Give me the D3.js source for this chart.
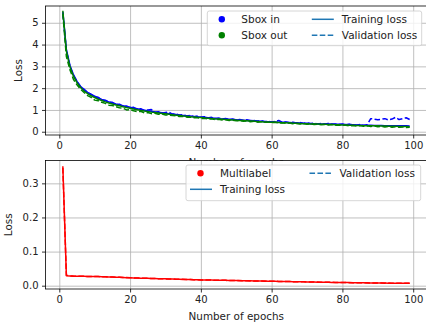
<!DOCTYPE html>
<html>
<head>
<meta charset="utf-8">
<script src="https://d3js.org/d3.v7.min.js"></script>
<style>
    body { margin: 0; background: #fff; }
    svg { display: block; font-family: "DejaVu Sans", sans-serif; }
</style>
</head>
<body>
<script>
var w = 426, h = 327;

// epochs 1..99
var epochs = d3.range(1, 100);

var trainIn = [
    5.50,3.78,3.05,2.62,2.31,2.09,1.93,1.81,1.71,1.63,
    1.55,1.48,1.42,1.37,1.32,1.27,1.23,1.19,1.15,1.12,
    1.08,1.05,1.02,0.99,0.96,0.94,0.91,0.89,0.87,0.85,
    0.83,0.81,0.79,0.77,0.75,0.73,0.72,0.70,0.69,0.67,
    0.66,0.64,0.63,0.62,0.60,0.59,0.58,0.57,0.56,0.55,
    0.54,0.53,0.52,0.51,0.50,0.49,0.48,0.47,0.46,0.46,
    0.45,0.44,0.43,0.43,0.42,0.41,0.41,0.40,0.39,0.39,
    0.38,0.37,0.37,0.36,0.36,0.35,0.35,0.34,0.34,0.33,
    0.33,0.32,0.32,0.31,0.31,0.30,0.30,0.30,0.29,0.29,
    0.29,0.28,0.28,0.28,0.27,0.27,0.27,0.27,0.26];

var valIn = [
    5.45,3.70,3.00,2.58,2.30,2.05,1.95,1.78,1.72,1.60,
    1.58,1.46,1.45,1.36,1.35,1.25,1.26,1.17,1.18,1.10,
    1.12,1.03,1.06,0.98,1.00,1.02,0.90,0.92,0.85,0.88,
    0.90,0.80,0.82,0.76,0.78,0.72,0.75,0.69,0.72,0.66,
    0.69,0.63,0.66,0.60,0.63,0.58,0.61,0.56,0.58,0.54,
    0.56,0.52,0.55,0.50,0.52,0.48,0.51,0.46,0.48,0.45,
    0.47,0.52,0.43,0.45,0.41,0.44,0.40,0.42,0.38,0.41,
    0.37,0.40,0.36,0.38,0.35,0.38,0.34,0.36,0.33,0.36,
    0.32,0.35,0.31,0.30,0.33,0.29,0.32,0.60,0.58,0.55,
    0.57,0.60,0.54,0.58,0.66,0.56,0.60,0.64,0.56];

var trainOut = [
    5.55,3.70,2.98,2.55,2.25,2.03,1.87,1.75,1.65,1.57,
    1.49,1.43,1.37,1.32,1.27,1.23,1.19,1.15,1.11,1.08,
    1.04,1.01,0.98,0.95,0.93,0.90,0.88,0.86,0.84,0.82,
    0.80,0.78,0.76,0.74,0.72,0.71,0.69,0.68,0.66,0.65,
    0.63,0.62,0.61,0.59,0.58,0.57,0.56,0.55,0.54,0.53,
    0.52,0.51,0.50,0.49,0.48,0.47,0.46,0.45,0.44,0.44,
    0.43,0.42,0.41,0.41,0.40,0.39,0.39,0.38,0.37,0.37,
    0.36,0.36,0.35,0.34,0.34,0.33,0.33,0.32,0.32,0.31,
    0.31,0.30,0.30,0.29,0.29,0.28,0.28,0.27,0.27,0.27,
    0.26,0.26,0.25,0.25,0.25,0.24,0.24,0.24,0.23];

var valOut = [
    5.40,3.45,2.85,2.40,2.15,1.95,1.80,1.66,1.58,1.45,
    1.42,1.35,1.30,1.22,1.20,1.15,1.10,1.08,1.00,1.02,
    0.96,0.92,0.94,0.87,0.88,0.83,0.85,0.80,0.81,0.77,
    0.76,0.74,0.73,0.70,0.70,0.67,0.67,0.64,0.64,0.61,
    0.62,0.58,0.59,0.56,0.57,0.54,0.55,0.52,0.53,0.50,
    0.51,0.48,0.50,0.46,0.48,0.44,0.46,0.43,0.44,0.42,
    0.43,0.40,0.41,0.39,0.40,0.37,0.38,0.36,0.38,0.34,
    0.36,0.33,0.35,0.32,0.33,0.31,0.33,0.30,0.31,0.29,
    0.30,0.27,0.29,0.26,0.28,0.25,0.27,0.24,0.26,0.23,
    0.25,0.22,0.24,0.21,0.23,0.20,0.22,0.19,0.21];

var trainMulti = [
    0.350,0.029,0.0285,0.028,0.0278,0.0276,0.0274,0.0272,0.0270,0.0268,
    0.0266,0.0263,0.0260,0.0257,0.0254,0.0250,0.0246,0.0241,0.0236,0.0231,
    0.0227,0.0224,0.0221,0.0218,0.0215,0.0212,0.0209,0.0206,0.0203,0.0200,
    0.0197,0.0194,0.0191,0.0188,0.0185,0.0182,0.0179,0.0176,0.0173,0.0170,
    0.0168,0.0166,0.0164,0.0162,0.0160,0.0158,0.0156,0.0154,0.0152,0.0150,
    0.0148,0.0146,0.0144,0.0142,0.0140,0.0138,0.0136,0.0134,0.0132,0.0130,
    0.0128,0.0126,0.0124,0.0122,0.0120,0.0118,0.0116,0.0114,0.0112,0.0110,
    0.0108,0.0106,0.0104,0.0102,0.0100,0.0099,0.0097,0.0096,0.0094,0.0093,
    0.0091,0.0090,0.0088,0.0087,0.0085,0.0084,0.0082,0.0081,0.0079,0.0078,
    0.0077,0.0076,0.0075,0.0074,0.0073,0.0072,0.0071,0.0070,0.0069];

var valMulti = [
    0.345,0.031,0.0287,0.0281,0.0280,0.0275,0.0276,0.0271,0.0272,0.0267,
    0.0267,0.0262,0.0261,0.0256,0.0255,0.0249,0.0247,0.0240,0.0237,0.0230,
    0.0228,0.0223,0.0222,0.0217,0.0216,0.0211,0.0210,0.0205,0.0204,0.0199,
    0.0198,0.0193,0.0192,0.0187,0.0186,0.0181,0.0180,0.0175,0.0174,0.0169,
    0.0169,0.0165,0.0165,0.0161,0.0161,0.0157,0.0157,0.0153,0.0153,0.0149,
    0.0149,0.0145,0.0145,0.0141,0.0141,0.0137,0.0137,0.0133,0.0133,0.0129,
    0.0129,0.0125,0.0125,0.0121,0.0121,0.0117,0.0117,0.0113,0.0113,0.0109,
    0.0109,0.0105,0.0105,0.0101,0.0101,0.0098,0.0098,0.0095,0.0095,0.0092,
    0.0092,0.0089,0.0089,0.0086,0.0086,0.0083,0.0083,0.0080,0.0080,0.0077,
    0.0078,0.0075,0.0076,0.0073,0.0074,0.0071,0.0072,0.0069,0.0070];

var xTicks = [0, 20, 40, 60, 80, 100];
var topYTicks = [0, 1, 2, 3, 4, 5];
var bottomYTicks = [0, 0.1, 0.2, 0.3];

var topLegend = [
    {label: "Sbox in", type: "dot", color: "#0000ff"},
    {label: "Sbox out", type: "dot", color: "#008000"},
    {label: "Training loss", type: "line", color: "#1f77b4"},
    {label: "Validation loss", type: "dash", color: "#1f77b4"}
];
var bottomLegend = [
    {label: "Multilabel", type: "dot", color: "#ff0000"},
    {label: "Training loss", type: "line", color: "#1f77b4"},
    {label: "Validation loss", type: "dash", color: "#1f77b4"}
];

var svg = d3.select("body")
            .append("svg")
            .attr("width", w)
            .attr("height", h);

var dash = "5.55,2.4";
var left = 45.5, right = 427;

function drawPanel(cfg) {
    var x = d3.scaleLinear().domain([-3.9, 103.9]).range([left, right]);
    var y = d3.scaleLinear().domain(cfg.yDomain).range([cfg.bottom, cfg.top]);

    var g = svg.append("g");

    // white axes background (hides the label of the panel above)
    g.append("rect")
        .attr("x", left).attr("y", cfg.top)
        .attr("width", right - left).attr("height", cfg.bottom - cfg.top)
        .attr("fill", "#fff");

    var clipId = "clip" + cfg.id;
    g.append("clipPath").attr("id", clipId)
        .append("rect")
        .attr("x", left).attr("y", cfg.top)
        .attr("width", right - left).attr("height", cfg.bottom - cfg.top);

    // grid
    g.append("g")
        .attr("transform", "translate(0," + cfg.bottom + ")")
        .call(d3.axisBottom(x).tickValues(xTicks).tickSize(-(cfg.bottom - cfg.top)).tickFormat(""))
        .call(a => a.select(".domain").remove())
        .selectAll("line").attr("stroke", "#b0b0b0").attr("stroke-width", 0.8);

    g.append("g")
        .attr("transform", "translate(" + left + ",0)")
        .call(d3.axisLeft(y).tickValues(cfg.yTicks).tickSize(-(right - left)).tickFormat(""))
        .call(a => a.select(".domain").remove())
        .selectAll("line").attr("stroke", "#b0b0b0").attr("stroke-width", 0.8);

    var line = d3.line()
                .x((d, i) => x(epochs[i]))
                .y(d => y(d));

    var lines = g.append("g").attr("clip-path", "url(#" + clipId + ")");
    cfg.series.forEach(function(s) {
        lines.append("path")
            .datum(s.values)
            .attr("d", line)
            .attr("fill", "none")
            .attr("stroke", s.color)
            .attr("stroke-width", 1.5)
            .attr("stroke-linejoin", "round")
            .attr("stroke-dasharray", s.dashed ? dash : null);
    });

    // axes
    var xAxis = d3.axisBottom(x).tickValues(xTicks).tickSizeInner(3.5).tickSizeOuter(0).tickPadding(3.5);
    var yAxis = d3.axisLeft(y).tickValues(cfg.yTicks).tickSizeInner(3.5).tickSizeOuter(0).tickPadding(3.5)
                .tickFormat(cfg.yFormat);

    var gx = g.append("g")
        .attr("transform", "translate(0," + cfg.bottom + ")")
        .call(xAxis);
    var gy = g.append("g")
        .attr("transform", "translate(" + left + ",0)")
        .call(yAxis);

    [gx, gy].forEach(function(a) {
        a.select(".domain").remove();
        a.selectAll("line").attr("stroke", "#000").attr("stroke-width", 0.8);
        a.selectAll("text").attr("font-size", 10).attr("fill", "#222")
            .attr("font-family", "DejaVu Sans");
    });

    // spines
    g.append("rect")
        .attr("x", left).attr("y", cfg.top)
        .attr("width", right - left).attr("height", cfg.bottom - cfg.top)
        .attr("fill", "none").attr("stroke", "#000").attr("stroke-width", 0.8);

    // labels
    svg.append("text")
        .attr("x", (left + right) / 2)
        .attr("y", cfg.bottom + 31)
        .attr("text-anchor", "middle")
        .attr("font-size", 10.4)
        .attr("fill", "#222")
        .text("Number of epochs");

    g.append("text")
        .attr("transform", "translate(" + cfg.ylabelX + "," + ((cfg.top + cfg.bottom) / 2) + ") rotate(-90)")
        .attr("text-anchor", "middle")
        .attr("font-size", 10.4)
        .attr("fill", "#222")
        .text("Loss");

    // legend
    var lg = g.append("g");
    lg.append("rect")
        .attr("x", cfg.legend.x).attr("y", cfg.legend.y)
        .attr("width", cfg.legend.w).attr("height", cfg.legend.h)
        .attr("rx", 2)
        .attr("fill", "#fff").attr("fill-opacity", 0.8)
        .attr("stroke", "#cccccc").attr("stroke-width", 0.8);

    cfg.legend.items.forEach(function(it, i) {
        var col = Math.floor(i / cfg.legend.rows), row = i % cfg.legend.rows;
        var hx = cfg.legend.x + 4 + col * cfg.legend.colW;
        var hy = cfg.legend.y + 8.3 + row * 16;
        if (it.type === "dot") {
            lg.append("circle").attr("cx", hx + 10.5).attr("cy", hy).attr("r", 3.2).attr("fill", it.color);
        } else {
            lg.append("line")
                .attr("x1", hx).attr("x2", hx + 22).attr("y1", hy).attr("y2", hy)
                .attr("stroke", it.color).attr("stroke-width", 1.5)
                .attr("stroke-dasharray", it.type === "dash" ? dash : null);
        }
        lg.append("text")
            .attr("x", hx + 30).attr("y", hy + 3.7)
            .attr("font-size", 10.5).attr("fill", "#222")
            .text(it.label);
    });
}

drawPanel({
    id: 0, top: 6, bottom: 135,
    yDomain: [-0.15, 5.77],
    yTicks: topYTicks,
    yFormat: d3.format("d"),
    ylabelX: 22,
    series: [
        {values: trainIn, color: "#0000ff", dashed: false},
        {values: valIn, color: "#0000ff", dashed: true},
        {values: trainOut, color: "#008000", dashed: false},
        {values: valOut, color: "#008000", dashed: true}
    ],
    legend: {x: 207.3, y: 11, w: 214.4, h: 34.7, rows: 2, colW: 100.5, items: topLegend}
});

drawPanel({
    id: 1, top: 160.5, bottom: 289,
    yDomain: [-0.0097, 0.367],
    yTicks: bottomYTicks,
    yFormat: d3.format(".1f"),
    ylabelX: 12,
    series: [
        {values: trainMulti, color: "#ff0000", dashed: false},
        {values: valMulti, color: "#ff0000", dashed: true}
    ],
    legend: {x: 186, y: 165, w: 234.7, h: 35.7, rows: 2, colW: 119.5, items: bottomLegend}
});
</script>
</body>
</html>
